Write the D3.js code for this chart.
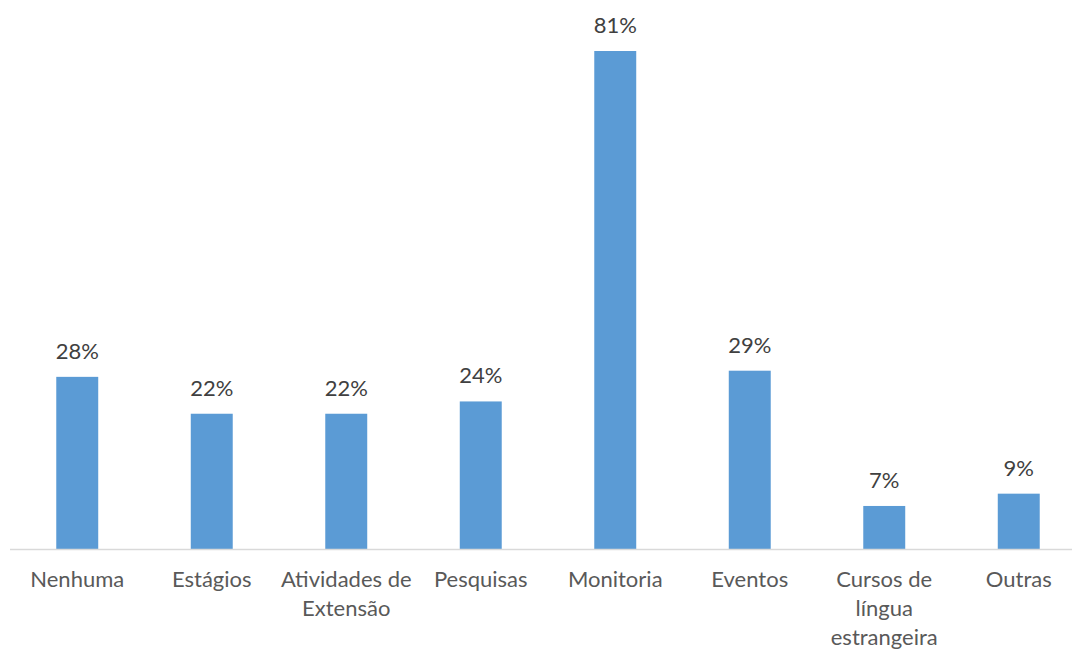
<!DOCTYPE html>
<html>
<head>
<meta charset="utf-8">
<script src="https://cdn.jsdelivr.net/npm/d3@7"></script>
<style>
  html, body { margin: 0; padding: 0; background: #fff; }
  svg { display: block; }
</style>
</head>
<body>
<svg id="chart" width="1072" height="650"></svg>
<script>
// Participação em atividades
const categories = ["Nenhuma", "Estágios", "Atividades de Extensão", "Pesquisas", "Monitoria", "Eventos", "Cursos de língua estrangeira", "Outras"];
const values = [0.28, 0.22, 0.22, 0.24, 0.81, 0.29, 0.07, 0.09];
// Line breaks used for the category labels
const labelLines = [["Nenhuma"], ["Estágios"], ["Atividades de", "Extensão"], ["Pesquisas"], ["Monitoria"], ["Eventos"], ["Cursos de", "língua", "estrangeira"], ["Outras"]];

const svg = d3.select("#chart");
const W = 1072, H = 650;
const baseY = 549;
const font = "Lato, 'Open Sans', sans-serif";
const fontSize = 22;

const x = d3.scaleBand()
  .domain(categories)
  .range([10, 10 + 134.5 * categories.length])
  .paddingInner(0.688)
  .paddingOuter(0.344);

const y = d3.scaleLinear()
  .domain([0, 0.81])
  .range([baseY, 51]);

const fmt = d3.format(".0%");

// bars
svg.append("g").selectAll("rect")
  .data(values)
  .join("rect")
  .attr("x", (d, i) => x(categories[i]))
  .attr("y", d => y(d))
  .attr("width", x.bandwidth())
  .attr("height", d => baseY - y(d))
  .attr("fill", "#5b9bd5");

// baseline axis
const axis = d3.axisBottom(x).tickSize(0).tickFormat("");
const ag = svg.append("g").attr("transform", `translate(0,${baseY})`).call(axis);
ag.select(".domain").attr("stroke", "#d9d9d9").attr("stroke-width", 1.5)
  .attr("d", `M10,0.5H${W}`);

// value labels
svg.append("g").selectAll("text")
  .data(values)
  .join("text")
  .attr("x", (d, i) => x(categories[i]) + x.bandwidth() / 2)
  .attr("y", d => y(d) - 18)
  .attr("text-anchor", "middle")
  .attr("font-family", font)
  .attr("font-size", fontSize)
  .attr("fill", "#404040")
  .text(d => fmt(d));

// category labels
const cg = svg.append("g");
labelLines.forEach((lines, i) => {
  const t = cg.append("text")
    .attr("x", x(categories[i]) + x.bandwidth() / 2)
    .attr("y", 587)
    .attr("text-anchor", "middle")
    .attr("font-family", font)
    .attr("font-size", fontSize)
    .attr("fill", "#595959");
  lines.forEach((ln, j) => {
    t.append("tspan")
      .attr("x", x(categories[i]) + x.bandwidth() / 2)
      .attr("dy", j === 0 ? 0 : 29)
      .text(ln);
  });
});
</script>
</body>
</html>
